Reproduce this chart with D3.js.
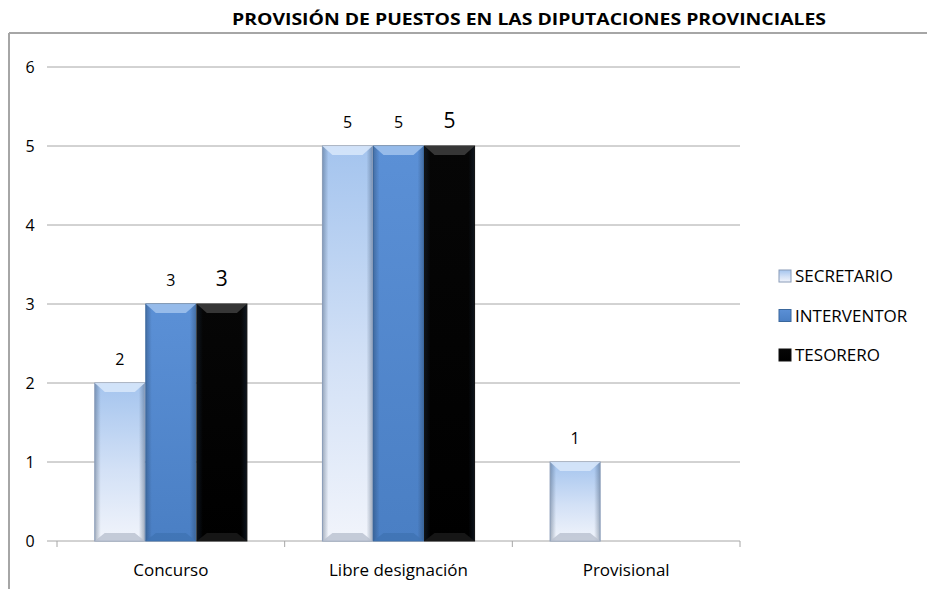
<!DOCTYPE html>
<html>
<head>
<meta charset="utf-8">
<script src="https://cdn.jsdelivr.net/npm/d3@7"></script>
<style>
  body { margin: 0; background: #fff; }
  text { font-family: "Open Sans", "Noto Sans", sans-serif; fill: #000; }
</style>
</head>
<body>
<svg id="chart"></svg>
<script>
const categories = ["Concurso", "Libre designación", "Provisional"];
const series = ["SECRETARIO", "INTERVENTOR", "TESORERO"];
const secretario = [2, 5, 1];
const interventor = [3, 5, 0];
const tesorero = [3, 5, 0];
const yTicks = [0, 1, 2, 3, 4, 5, 6];
const values = [secretario, interventor, tesorero];

const width = 927, height = 589;
const margin = { top: 67, right: 187, bottom: 48, left: 57 };

const svg = d3.select('#chart').attr('width', width).attr('height', height);
const defs = svg.append('defs');

// vertical gradients per series
const grads = [
  { id: 'g0', stops: [['0%', '#a4c4ee'], ['55%', '#d3e1f6'], ['100%', '#f1f4fb']] },
  { id: 'g1', stops: [['0%', '#5b90d6'], ['100%', '#4a7fc4']] },
  { id: 'g2', stops: [['0%', '#060606'], ['100%', '#000000']] }
];
grads.forEach(g => {
  const lg = defs.append('linearGradient').attr('id', g.id)
    .attr('x1', 0).attr('y1', 0).attr('x2', 0).attr('y2', 1);
  g.stops.forEach(s => lg.append('stop').attr('offset', s[0]).attr('stop-color', s[1]));
});
// horizontal shading for the pillow look
const side = defs.append('linearGradient').attr('id', 'side')
  .attr('x1', 0).attr('y1', 0).attr('x2', 1).attr('y2', 0);
[['0%', 0.35], ['12%', 0], ['88%', 0], ['100%', 0.35]].forEach(s =>
  side.append('stop').attr('offset', s[0]).attr('stop-color', '#1f3550').attr('stop-opacity', s[1]));

const bevel = ['#d6e6fa', '#9cc0ec', '#3c3c3c'];
const edge = ['#8a9cb8', '#3a679c', '#111'];
const bottomBevel = ['#b9c0cf', '#3f73b3', '#1c1c1c'];

// frame
svg.append('line').attr('x1', 9).attr('x2', width).attr('y1', 33).attr('y2', 33)
  .attr('stroke', '#a6a6a6').attr('stroke-width', 2);
svg.append('line').attr('x1', 9).attr('x2', 9).attr('y1', 33).attr('y2', height)
  .attr('stroke', '#a6a6a6').attr('stroke-width', 2);

svg.append('text').attr('x', 232).attr('y', 25)
  .attr('font-size', 16).attr('font-weight', 'bold')
  .attr('textLength', 594).attr('lengthAdjust', 'spacingAndGlyphs')
  .text('PROVISIÓN DE PUESTOS EN LAS DIPUTACIONES PROVINCIALES');

const x0 = d3.scaleBand().domain(categories).range([margin.left, width - margin.right]);
const x1 = d3.scaleBand().domain(series).range([0, x0.bandwidth()]).paddingOuter(0.73).paddingInner(0.0);
const y = d3.scaleLinear().domain([0, 6]).range([height - margin.bottom, margin.top]);

// gridlines
svg.append('g').selectAll('line').data(yTicks).join('line')
  .attr('x1', margin.left - 10).attr('x2', width - margin.right)
  .attr('y1', d => y(d)).attr('y2', d => y(d))
  .attr('stroke', '#a6a6a6').attr('stroke-width', 1);

svg.append('g').selectAll('text').data(yTicks).join('text')
  .attr('x', 30).attr('y', d => y(d) + 6).attr('text-anchor', 'middle')
  .attr('font-size', 16).text(d => d);

// x axis ticks
const tickXs = categories.map(c => x0(c)).concat([x0(categories[2]) + x0.bandwidth()]);
svg.append('g').selectAll('line').data(tickXs).join('line')
  .attr('x1', d => d).attr('x2', d => d)
  .attr('y1', y(0)).attr('y2', y(0) + 6)
  .attr('stroke', '#a6a6a6');

svg.append('g').selectAll('text').data(categories).join('text')
  .attr('x', d => x0(d) + x0.bandwidth() / 2).attr('y', y(0) + 35)
  .attr('text-anchor', 'middle').attr('font-size', 17).text(d => d);

// bars
series.forEach((s, si) => {
  const g = svg.append('g');
  categories.forEach((c, ci) => {
    const v = values[si][ci];
    if (!v) return;
    const bx = x0(c) + x1(s) + 0.5, bw = x1.bandwidth() - 1;
    const top = y(v), bot = y(0);
    g.append('rect').attr('x', bx).attr('y', top).attr('width', bw).attr('height', bot - top)
      .attr('fill', `url(#${grads[si].id})`);
    g.append('rect').attr('x', bx).attr('y', top).attr('width', bw).attr('height', bot - top)
      .attr('fill', 'url(#side)').attr('stroke', edge[si]).attr('stroke-width', 1);
    g.append('path')
      .attr('d', `M${bx},${top} L${bx + bw},${top} L${bx + bw - 10},${top + 9} L${bx + 10},${top + 9} Z`)
      .attr('fill', bevel[si]).attr('opacity', 0.9);
    g.append('path')
      .attr('d', `M${bx},${bot} L${bx + bw},${bot} L${bx + bw - 10},${bot - 8} L${bx + 10},${bot - 8} Z`)
      .attr('fill', bottomBevel[si]).attr('opacity', 0.8);
    g.append('text').attr('x', bx + bw / 2).attr('y', top - 18)
      .attr('text-anchor', 'middle').attr('font-size', si === 2 ? 21 : 16).text(v);
  });
});

// legend
const leg = svg.append('g').attr('transform', 'translate(779,276)');
series.forEach((s, i) => {
  const row = leg.append('g').attr('transform', `translate(0,${i * 39.5})`);
  row.append('rect').attr('x', 0).attr('y', -6).attr('width', 12).attr('height', 12)
    .attr('fill', `url(#${grads[i].id})`).attr('stroke', edge[i]);
  row.append('text').attr('x', 16).attr('y', 6).attr('font-size', 17).text(s);
});
</script>
</body>
</html>
